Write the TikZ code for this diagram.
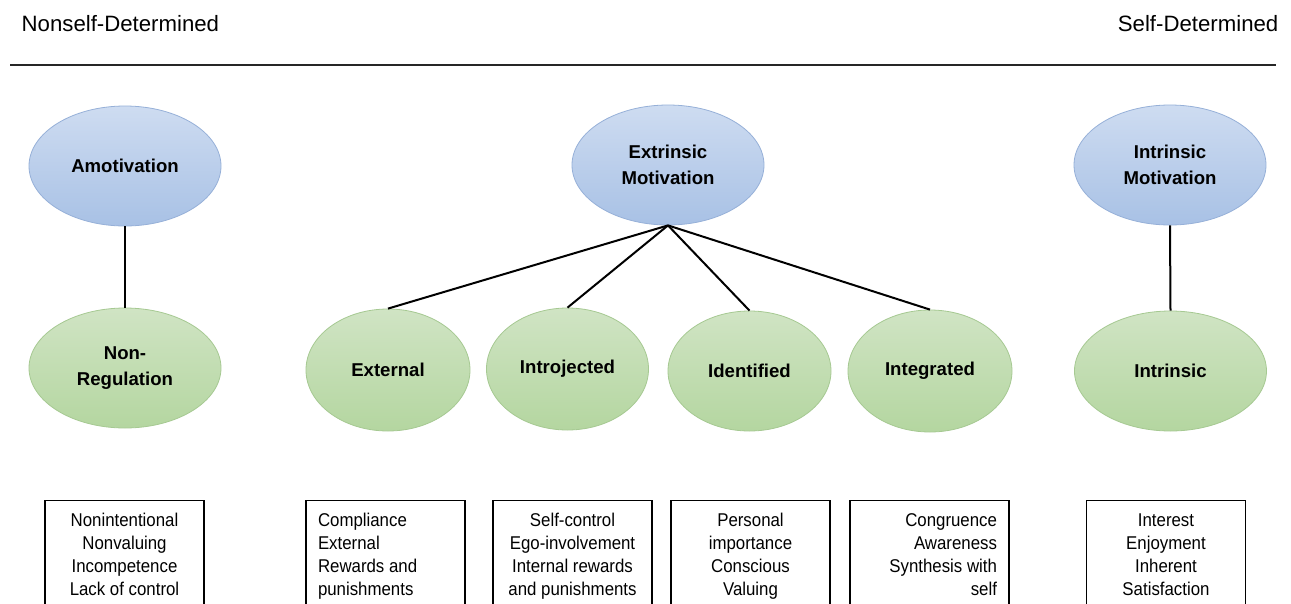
\documentclass[tikz,border=0pt]{standalone}
\usepackage{fontspec}
\setmainfont{Liberation Sans}
\newfontfamily\boxfont[FakeStretch=0.91]{Liberation Sans}
\usetikzlibrary{shapes.geometric}
\definecolor{bluetop}{RGB}{206,220,241}
\definecolor{bluebot}{RGB}{168,193,229}
\definecolor{blueedge}{RGB}{150,176,216}
\definecolor{greentop}{RGB}{208,228,196}
\definecolor{greenbot}{RGB}{180,214,160}
\definecolor{greenedge}{RGB}{166,201,146}
\tikzset{
  ell/.style={ellipse, inner sep=0pt, line width=0.8pt, align=center,
    font=\fontsize{18.6}{25.5}\selectfont\bfseries},
  blueell/.style={ell, draw=blueedge, top color=bluetop, bottom color=bluebot,
    minimum width=192pt, minimum height=120pt},
  greenell/.style={ell, draw=greenedge, top color=greentop, bottom color=greenbot},
  wideell/.style={minimum width=192pt, minimum height=120pt},
  smallell/.style={minimum width=164pt, minimum height=122pt},
  conn/.style={line width=2pt, black},
  headtxt/.style={inner sep=0pt, font=\fontsize{22.2}{27}\selectfont},
  infobox/.style={draw, line width=1.3pt, anchor=north, inner sep=0pt,
    minimum width=159pt},
}
\newcommand{\boxtext}[2]{\parbox[c][140pt][t]{135pt}{#1\boxfont\fontsize{18.5}{23}\selectfont\vspace*{10pt}\strut #2}}
\begin{document}
\begin{tikzpicture}[x=1pt,y=-1pt]
\clip (0,0) rectangle (1291,603);
\fill[white] (0,0) rectangle (1291,603);
% headings
\node[headtxt, anchor=base west] (nsd) at (21.5,31.5) {Nonself-Determined};
\node[headtxt, anchor=base east] (sd) at (1278.5,31.5) {Self-Determined};
\coordinate (lineL) at (10,64.5);
\coordinate (lineR) at (1276,64.5);
\draw[line width=2pt, black!85] (lineL) -- (lineR);
% top ellipses
\node[blueell] (amot) at (125,166) {Amotivation};
\node[blueell] (extm) at (668,165) {Extrinsic\\Motivation};
\node[blueell] (intm) at (1170,165) {Intrinsic\\Motivation};
% lower ellipses
\node[greenell, wideell] (nonreg) at (125,368) {Non-\\Regulation};
\node[greenell, smallell] (external) at (388,370) {External};
\node[greenell, minimum width=162pt, minimum height=122pt] (introj) at (567.5,369) {Introjected};
\node[greenell, minimum width=163pt, minimum height=120pt] (ident) at (749.5,371) {Identified};
\node[greenell, smallell] (integ) at (930,371) {Integrated};
\node[greenell, wideell] (intr) at (1170.5,371) {Intrinsic};
% connectors
\draw[conn] (amot.south) -- (nonreg.north);
\draw[conn] (extm.south) -- (external.north);
\draw[conn] (extm.south) -- (introj.north);
\draw[conn] (extm.south) -- (ident.north);
\draw[conn] (extm.south) -- (integ.north);
\draw[conn] (intm.south) -- (intr.north);
% boxes
\node[infobox] (b1) at (124.5,500) {\boxtext{\centering}{Nonintentional\\Nonvaluing\\Incompetence\\Lack of control}};
\node[infobox] (b2) at (385.5,500) {\boxtext{\raggedright}{Compliance\\External\\Rewards and\\punishments}};
\node[infobox] (b3) at (572.5,500) {\boxtext{\centering}{Self-control\\Ego-involvement\\Internal rewards\\and punishments}};
\node[infobox] (b4) at (750.5,500) {\boxtext{\centering}{Personal\\importance\\Conscious\\Valuing}};
\node[infobox] (b5) at (929.5,500) {\boxtext{\raggedleft}{Congruence\\Awareness\\Synthesis with\\self}};
\node[infobox] (b6) at (1166,500) {\boxtext{\centering}{Interest\\Enjoyment\\Inherent\\Satisfaction}};
\end{tikzpicture}
\end{document}
